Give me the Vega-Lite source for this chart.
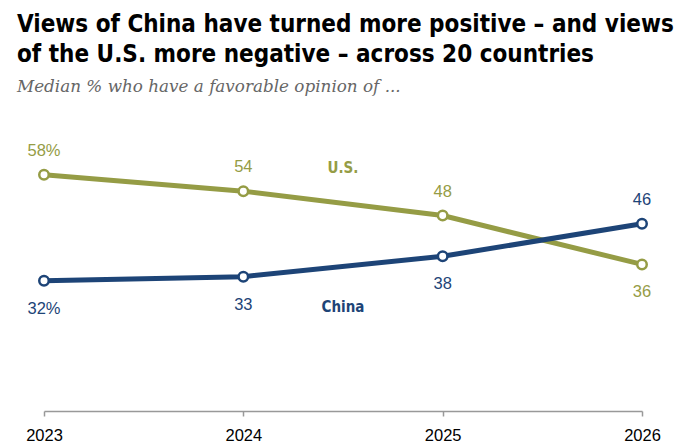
{
  "$schema": "https://vega.github.io/schema/vega-lite/v6.json",
  "width": 598,
  "height": 285,
  "autosize": "none",
  "padding": {"left": 44, "top": 126, "right": 58, "bottom": 36},
  "background": "white",
  "config": {"view": {"stroke": null}},
  "title": {
    "text": ["Views of China have turned more positive \u2013 and views", "of the U.S. more negative \u2013 across 20 countries"],
    "subtitle": "Median % who have a favorable opinion of ...",
    "anchor": "start",
    "frame": "group",
    "dx": -27,
    "offset": 30,
    "font": "DejaVu Sans Condensed, Roboto",
    "fontSize": 24,
    "fontWeight": "bold",
    "lineHeight": 30,
    "color": "#000000",
    "subtitleFont": "DejaVu Serif",
    "subtitleFontSize": 16.8,
    "subtitleFontStyle": "italic",
    "subtitleColor": "#666666",
    "subtitlePadding": 12
  },
  "datasets": {
    "points": [
      {"year": 2023, "series": "U.S.", "value": 58, "label": "58%"},
      {"year": 2024, "series": "U.S.", "value": 54, "label": "54"},
      {"year": 2025, "series": "U.S.", "value": 48, "label": "48"},
      {"year": 2026, "series": "U.S.", "value": 36, "label": "36"},
      {"year": 2023, "series": "China", "value": 32, "label": "32%"},
      {"year": 2024, "series": "China", "value": 33, "label": "33"},
      {"year": 2025, "series": "China", "value": 38, "label": "38"},
      {"year": 2026, "series": "China", "value": 46, "label": "46"}
    ],
    "names": [
      {"year": 2024.5, "series": "U.S.", "value": 59.6},
      {"year": 2024.5, "series": "China", "value": 25.5}
    ]
  },
  "encoding": {
    "x": {
      "field": "year",
      "type": "quantitative",
      "scale": {"domain": [2023, 2026], "nice": false, "zero": false},
      "axis": {
        "values": [2023, 2024, 2025, 2026],
        "format": "d",
        "title": null,
        "grid": false,
        "labelFont": "Liberation Sans",
        "labelFontSize": 16.5,
        "labelColor": "#000000",
        "labelPadding": 11,
        "labelFlush": false,
        "domainColor": "#999999",
        "domainWidth": 1.5,
        "tickColor": "#999999",
        "tickWidth": 1.5,
        "tickSize": 5
      }
    },
    "y": {
      "field": "value",
      "type": "quantitative",
      "scale": {"domain": [0, 70]},
      "axis": null
    },
    "color": {
      "field": "series",
      "type": "nominal",
      "scale": {"domain": ["U.S.", "China"], "range": ["#959c45", "#1d4477"]},
      "legend": null
    }
  },
  "layer": [
    {
      "data": {"name": "points"},
      "mark": {"type": "line", "strokeWidth": 5}
    },
    {
      "data": {"name": "points"},
      "mark": {"type": "point", "shape": "circle", "filled": false, "fill": "white", "fillOpacity": 1, "strokeWidth": 2.5, "size": 90, "opacity": 1}
    },
    {
      "data": {"name": "points"},
      "transform": [
        {"filter": "(datum.series == 'U.S.' && datum.year != 2026) || (datum.series == 'China' && datum.year == 2026)"}
      ],
      "mark": {"type": "text", "dy": -24, "baseline": "middle", "font": "Liberation Sans", "fontSize": 16.5},
      "encoding": {"text": {"field": "label"}}
    },
    {
      "data": {"name": "points"},
      "transform": [
        {"filter": "!((datum.series == 'U.S.' && datum.year != 2026) || (datum.series == 'China' && datum.year == 2026))"}
      ],
      "mark": {"type": "text", "dy": 28, "baseline": "middle", "font": "Liberation Sans", "fontSize": 16.5},
      "encoding": {"text": {"field": "label"}}
    },
    {
      "data": {"name": "names"},
      "mark": {"type": "text", "baseline": "middle", "font": "DejaVu Sans Condensed, Roboto", "fontWeight": "bold", "fontSize": 15},
      "encoding": {"text": {"field": "series"}}
    }
  ]
}
